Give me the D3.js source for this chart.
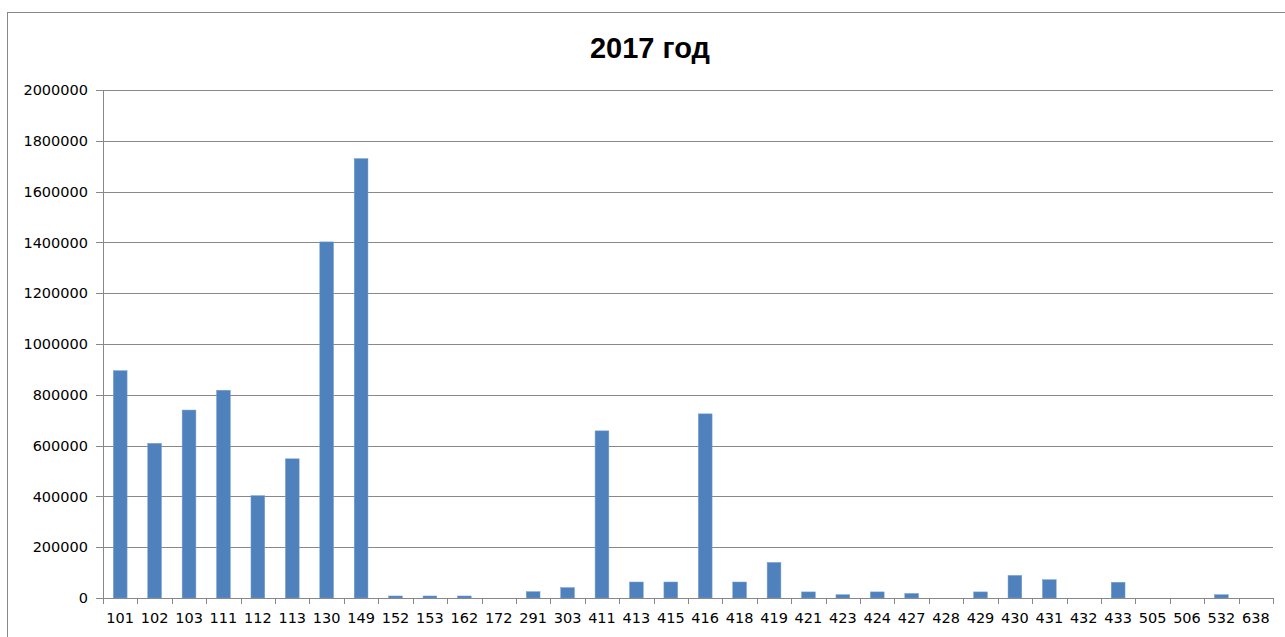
<!DOCTYPE html>
<html>
<head>
<meta charset="utf-8">
<script src="https://cdn.jsdelivr.net/npm/d3@7"></script>
<style>
  body { margin: 0; background: #fff; }
  #chart text { fill: #000; }
</style>
</head>
<body>
<div id="chart"></div>
<script>
"use strict"

const titleText = "2017 год";

const categories = ["101", "102", "103", "111", "112", "113", "130", "149", "152", "153",
  "162", "172", "291", "303", "411", "413", "415", "416", "418", "419",
  "421", "423", "424", "427", "428", "429", "430", "431", "432", "433",
  "505", "506", "532", "638"];

const values = [895000, 609000, 740000, 818000, 403000, 548000, 1402000, 1730000, 8000, 8000,
  8000, 0, 25000, 41000, 658000, 63000, 63000, 725000, 63000, 140000,
  24000, 13000, 24000, 18000, 0, 24000, 89000, 72000, 0, 62000,
  0, 0, 13000, 0];

const yTicks = [0, 200000, 400000, 600000, 800000, 1000000, 1200000, 1400000, 1600000, 1800000, 2000000];

let margin = {top: 90, right: 12, bottom: 39, left: 103};
let width = 1285 - margin.left - margin.right,
    height = 637 - margin.top - margin.bottom;

let root = d3.select("#chart")
  .append("svg")
  .attr("width", 1285)
  .attr("height", 637);

// outer chart frame
root.append("rect")
  .attr("x", 7.5)
  .attr("y", 12.5)
  .attr("width", 1290)
  .attr("height", 640)
  .style("fill", "none")
  .style("stroke", "#888")
  .style("stroke-width", 1);

root.append("text")
  .attr("x", 650)
  .attr("y", 58)
  .attr("text-anchor", "middle")
  .style("font-family", "Liberation Sans, Arial, sans-serif")
  .style("font-weight", "bold")
  .style("font-size", "29px")
  .text(titleText);

let svg = root.append("g")
  .attr("transform", "translate(" + margin.left + "," + margin.top + ")");

let x = d3.scaleBand()
  .domain(categories)
  .range([0, width])
  .paddingInner(0.6)
  .paddingOuter(0.3);

let y = d3.scaleLinear()
  .domain([0, 2000000])
  .range([height, 0]);

// gridlines
let grid = svg.append("g")
  .call(d3.axisLeft(y).tickValues(yTicks).tickSize(-width).tickFormat(""));
grid.select(".domain").remove();
grid.selectAll("line").style("stroke", "#888").attr("shape-rendering", "crispEdges");

// y axis
let yAxis = svg.append("g")
  .call(d3.axisLeft(y).tickValues(yTicks).tickSize(7).tickPadding(8).tickFormat(d3.format("d")));
yAxis.select(".domain").style("stroke", "#888").attr("shape-rendering", "crispEdges");
yAxis.selectAll("line").style("stroke", "#888").attr("shape-rendering", "crispEdges");
yAxis.selectAll("text")
  .style("font-family", "DejaVu Sans, sans-serif")
  .style("font-size", "14.5px");

// bars
svg.selectAll(".bar")
  .data(values)
  .enter()
  .append("rect")
  .attr("class", "bar")
  .attr("x", function(d, i) { return x(categories[i]) })
  .attr("y", function(d) { return y(d) })
  .attr("width", x.bandwidth())
  .attr("height", function(d) { return height - y(d) })
  .style("fill", "#4F81BD")
  .style("stroke", "#7aa0d0")
  .style("stroke-width", 0.5);

// x axis line + labels
let xAxis = svg.append("g")
  .attr("transform", "translate(0," + height + ")")
  .call(d3.axisBottom(x).tickSize(0).tickPadding(15));
xAxis.select(".domain").style("stroke", "#888").attr("shape-rendering", "crispEdges");
xAxis.selectAll("text")
  .style("font-family", "DejaVu Sans, sans-serif")
  .style("font-size", "14.5px");

// tick marks on category boundaries
let bounds = categories.map(function(c) { return x(c) - x.step() * x.paddingOuter() });
bounds.push(width);
xAxis.selectAll(".bound")
  .data(bounds)
  .enter()
  .append("line")
  .attr("class", "bound")
  .attr("x1", function(d) { return Math.round(d) + 0.5 })
  .attr("x2", function(d) { return Math.round(d) + 0.5 })
  .attr("y1", 0)
  .attr("y2", 6)
  .style("stroke", "#888");
</script>
</body>
</html>
